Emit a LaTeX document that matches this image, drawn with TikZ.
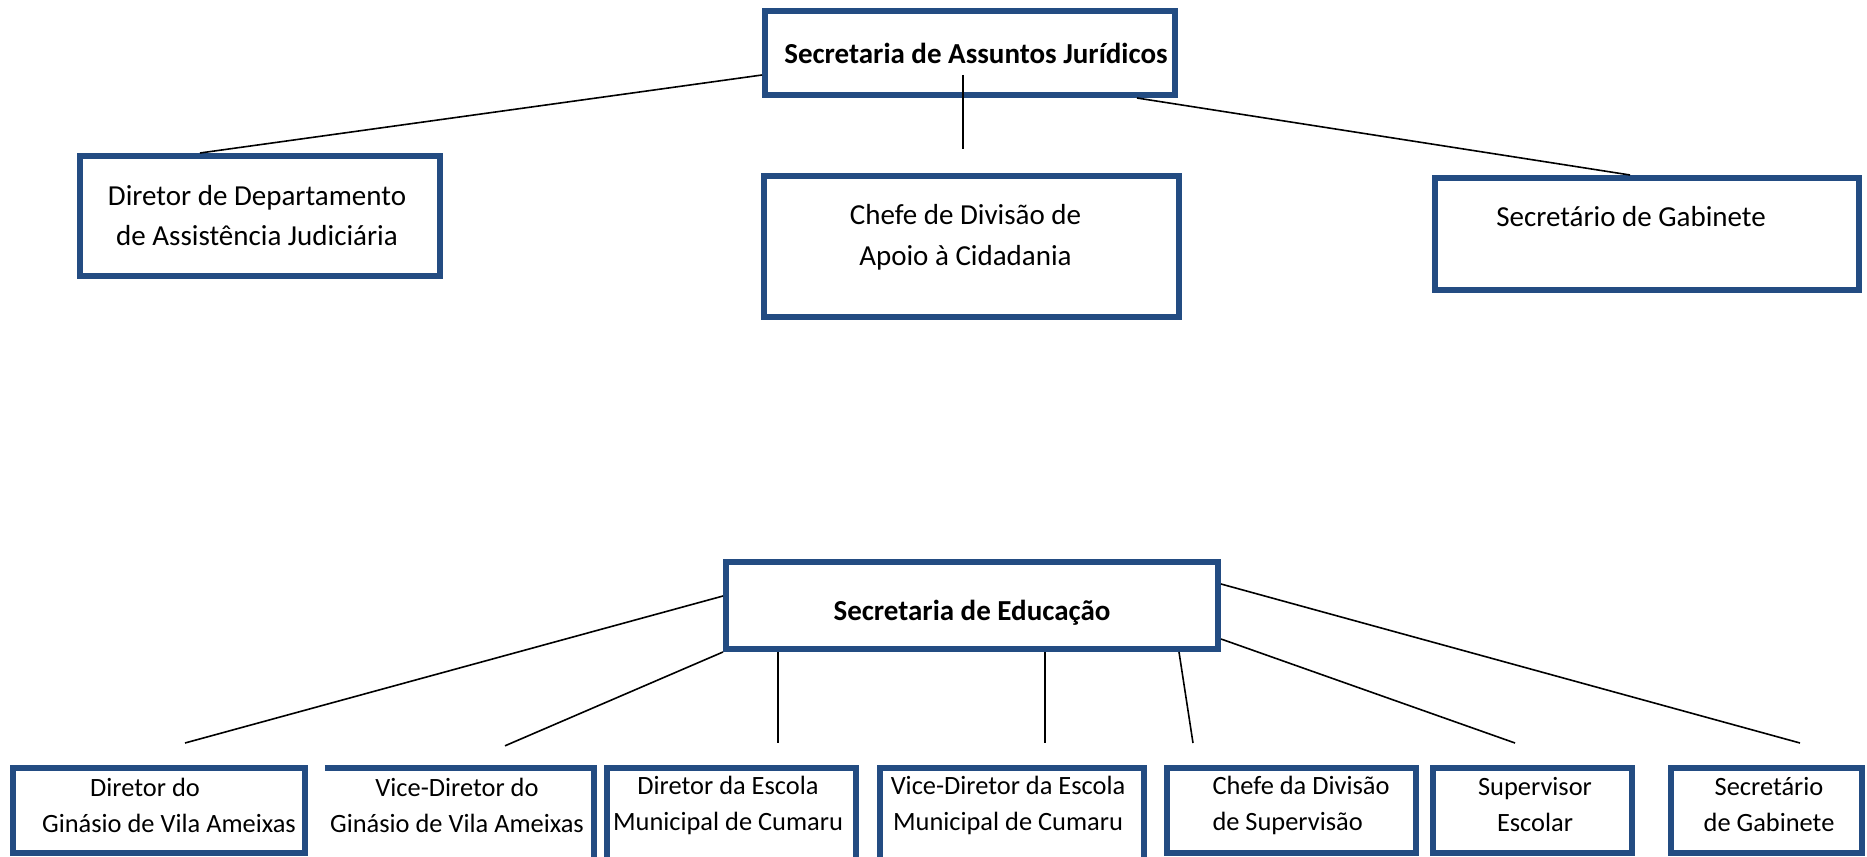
\documentclass[tikz,border=0pt]{standalone}
\usepackage{fontspec}
\setmainfont{Carlito}
\usetikzlibrary{positioning}
\definecolor{orgblue}{RGB}{35,76,130}

\tikzset{
  orgline/.style={draw=orgblue, line width=6pt},
  orgbox/.style={orgline, inner sep=0pt},
  headtext/.style={font=\fontsize{29}{36}\selectfont\bfseries, inner sep=0pt},
  toptext/.style={font=\fontsize{29}{40}\selectfont, align=center, inner sep=0pt},
  subtext/.style={font=\fontsize{26.4}{36}\selectfont, align=center, inner sep=0pt},
  link/.style={line width=1.6pt}
}

\begin{document}
\begin{tikzpicture}[x=1pt,y=-1pt]
  \useasboundingbox (0,0) rectangle (1867,856);
  \clip (0,0) rectangle (1867,856);

  % Secretaria de Assuntos Juridicos
  \node[orgbox, minimum width=410pt, minimum height=84pt] (juri) at (970,53) {};
  \node[headtext] (jurit) at ([xshift=6pt]juri.center) {Secretaria de Assuntos Jurídicos};

  \node[orgbox, minimum width=360pt, minimum height=120pt] (dep) at (260,216) {};
  \node[toptext] (dept) at ([xshift=-3pt]dep.center) {Diretor de Departamento\\de Assistência Judiciária};

  \node[orgbox, minimum width=415pt, minimum height=141pt] (apoio) at (971.5,246.5) {};
  \node[toptext, font=\fontsize{29}{41}\selectfont] (apoiot) at ([xshift=-6pt,yshift=9pt]apoio.center) {Chefe de Divisão de\\Apoio à Cidadania};

  \node[orgbox, minimum width=424pt, minimum height=112pt] (gab) at (1647,234) {};
  \node[toptext] (gabt) at ([xshift=-16pt,yshift=17pt]gab.center) {Secretário de Gabinete};

  \path[link]
    ([yshift=-22pt]juri.west) edge ([xshift=-60pt]dep.north)
    ([xshift=-7pt,yshift=-22pt]juri.center) edge ([xshift=-8.5pt,yshift=24pt]apoio.north)
    ([xshift=167pt]juri.south) edge ([xshift=-17pt]gab.north);

  % Secretaria de Educacao
  \node[orgbox, minimum width=492pt, minimum height=87pt] (edu) at (972,605.5) {};
  \node[headtext] (edut) at ([yshift=-7pt]edu.center) {Secretaria de Educação};

  \node[orgbox, minimum width=292pt, minimum height=85pt] (b1) at (159,810.5) {};
  \node[minimum width=269pt, minimum height=92pt, inner sep=0pt] (b2) at (459.5,814) {};
  \draw[orgline] (b2.north west) -- (b2.north east) -- (b2.south east);
  \node[orgbox, minimum width=249pt, minimum height=92pt] (b3) at (731.5,814) {};
  \node[orgbox, minimum width=264pt, minimum height=92pt] (b4) at (1012,814) {};
  \node[orgbox, minimum width=249pt, minimum height=85pt] (b5) at (1291.5,810.5) {};
  \node[orgbox, minimum width=199pt, minimum height=85pt] (b6) at (1532.5,810.5) {};
  \node[orgbox, minimum width=191pt, minimum height=85pt] (b7) at (1766.5,810.5) {};

  \node[subtext] (b1t) at (169,805) {Diretor do\hspace*{48pt}\\Ginásio de Vila Ameixas};
  \node[subtext] (b2t) at (457,805) {Vice-Diretor do\\Ginásio de Vila Ameixas};
  \node[subtext] (b3t) at (728,805) {Diretor da Escola\\Municipal de Cumaru};
  \node[subtext] (b4t) at (1008,805) {Vice-Diretor da Escola\\Municipal de Cumaru};
  \node[subtext, align=left] (b5t) at (1301,805) {Chefe da Divisão\\de Supervisão};
  \node[subtext] (b6t) at (1535,805) {Supervisor\\Escolar};
  \node[subtext] (b7t) at (1769,805) {Secretário\\de Gabinete};

  \path[link]
    ([yshift=9.5pt]edu.west) edge ([xshift=26pt,yshift=22pt]b1.north)
    (edu.south west) edge ([xshift=45.5pt,yshift=22pt]b2.north)
    ([xshift=-194pt]edu.south) edge ([xshift=46.5pt,yshift=22pt]b3.north)
    ([xshift=73pt]edu.south) edge ([xshift=33pt,yshift=22pt]b4.north)
    ([xshift=207pt]edu.south) edge ([xshift=-98.5pt,yshift=22pt]b5.north)
    ([yshift=-33.5pt]edu.east) edge ([xshift=-17.5pt,yshift=22pt]b6.north)
    ([yshift=21.5pt]edu.east) edge ([xshift=33.5pt,yshift=22pt]b7.north);
\end{tikzpicture}
\end{document}
